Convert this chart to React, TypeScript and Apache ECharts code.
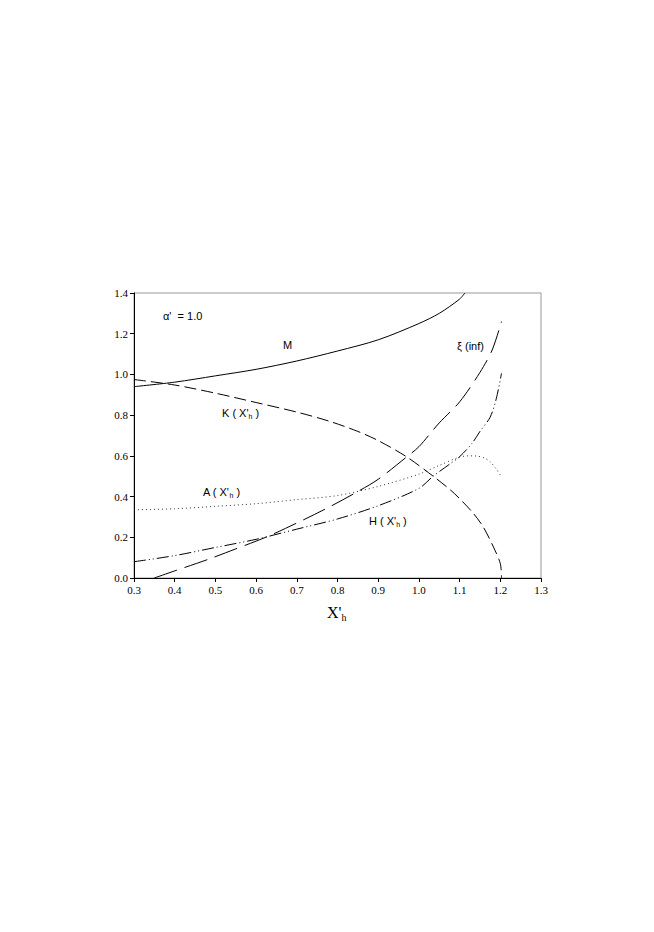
import React, { useEffect, useRef } from "react";
import * as echarts from "echarts";

const xTicks = [0.3, 0.4, 0.5, 0.6, 0.7, 0.8, 0.9, 1.0, 1.1, 1.2, 1.3];
const yTicks = [0.0, 0.2, 0.4, 0.6, 0.8, 1.0, 1.2, 1.4];

const mX = [0.3, 0.4, 0.5, 0.6, 0.7, 0.8, 0.9, 1.0, 1.05, 1.1, 1.113];
const mY = [0.94, 0.962, 0.993, 1.025, 1.066, 1.115, 1.17, 1.25, 1.3, 1.37, 1.4];

const kX = [0.3, 0.4, 0.5, 0.6, 0.7, 0.78, 0.85, 0.9, 0.97, 1.035, 1.076, 1.1, 1.134, 1.158, 1.183, 1.2, 1.203];
const kY = [0.975, 0.948, 0.908, 0.862, 0.815, 0.77, 0.72, 0.675, 0.595, 0.5, 0.435, 0.39, 0.317, 0.251, 0.153, 0.071, 0.0];

const xiX = [0.35, 0.4, 0.48, 0.55, 0.626, 0.7, 0.78, 0.85, 0.9, 0.97, 1.0, 1.05, 1.1, 1.15, 1.18, 1.203];
const xiY = [0.0, 0.035, 0.09, 0.143, 0.202, 0.27, 0.349, 0.425, 0.485, 0.595, 0.645, 0.762, 0.865, 1.01, 1.12, 1.26];

const aX = [0.3, 0.4, 0.5, 0.6, 0.7, 0.8, 0.9, 1.0, 1.05, 1.1, 1.125, 1.142, 1.16, 1.175, 1.19, 1.2];
const aY = [0.335, 0.34, 0.352, 0.365, 0.385, 0.405, 0.45, 0.51, 0.553, 0.594, 0.6, 0.599, 0.59, 0.571, 0.535, 0.505];

const hX = [0.3, 0.4, 0.5, 0.6, 0.7, 0.8, 0.9, 1.0, 1.035, 1.076, 1.1, 1.13, 1.15, 1.175, 1.19, 1.203];
const hY = [0.08, 0.11, 0.15, 0.19, 0.24, 0.29, 0.355, 0.44, 0.5, 0.56, 0.596, 0.66, 0.72, 0.79, 0.88, 1.006];

const zip = (xs: number[], ys: number[]) => xs.map((x, i) => [x, ys[i]]);

const serif = "Liberation Serif";
const sans = "Liberation Sans";

function lineSeries(name: string, xs: number[], ys: number[], type: any, color = "#000", width = 1) {
  return {
    name,
    type: "line",
    data: zip(xs, ys),
    showSymbol: false,
    smooth: 0.3,
    clip: true,
    lineStyle: { color, width, type },
  };
}

const rich = {
  n: { fontFamily: sans, fontSize: 11, color: "#000" },
  s: { fontFamily: sans, fontSize: 7, color: "#000", padding: [7, 0, 0, 0] },
};

export default function App() {
  const ref = useRef<HTMLDivElement>(null);
  useEffect(() => {
    if (!ref.current) return;
    const chart = echarts.init(ref.current, undefined, { renderer: "svg" });
    const label = (x: number, y: number, text: string) => ({
      type: "text",
      left: x,
      top: y,
      style: { text, rich, font: `11px ${sans}`, fill: "#000" },
    });
    const axisLabel = {
      fontFamily: serif,
      fontSize: 11,
      color: "#000",
      margin: 6,
      formatter: (v: number) => v.toFixed(1),
    };
    chart.setOption({
      animation: false,
      backgroundColor: "#fff",
      grid: {
        left: 134,
        top: 293,
        right: 113,
        bottom: 354,
        show: true,
        borderColor: "#999",
        borderWidth: 1,
        backgroundColor: "transparent",
      },
      xAxis: {
        type: "value",
        min: 0.3,
        max: 1.3,
        interval: 0.1,
        axisLine: { show: true, lineStyle: { color: "#000", width: 1 } },
        axisTick: { show: true, length: 4, lineStyle: { color: "#000" } },
        splitLine: { show: false },
        axisLabel,
      },
      yAxis: {
        type: "value",
        min: 0,
        max: 1.4,
        interval: 0.2,
        axisLine: { show: true, lineStyle: { color: "#000", width: 1 } },
        axisTick: { show: true, length: 4, lineStyle: { color: "#000" } },
        splitLine: { show: false },
        axisLabel,
      },
      series: [
        lineSeries("M", mX, mY, "solid"),
        lineSeries("K", kX, kY, [12, 5]),
        lineSeries("xi", xiX, xiY, [24, 8]),
        lineSeries("A", aX, aY, [1, 3], "#333"),
        lineSeries("H", hX, hY, [12, 3, 1, 3, 1, 3]),
      ],
      graphic: [
        label(163, 310, "α'  = 1.0"),
        label(283, 339, "M"),
        label(222, 407, "{n|K ( X'}{s|h}{n| )}"),
        label(457, 340, "ξ (inf)"),
        label(203, 486, "{n|A ( X'}{s|h}{n| )}"),
        label(369, 515, "{n|H ( X'}{s|h}{n| )}"),
        {
          type: "text",
          left: 327,
          top: 604,
          style: {
            text: "{n|X'}{s|h}",
            rich: {
              n: { fontFamily: serif, fontSize: 16, color: "#000" },
              s: { fontFamily: serif, fontSize: 10, color: "#000", padding: [10, 0, 0, 0] },
            },
          },
        },
      ],
    });
    return () => chart.dispose();
  }, []);
  return (
    <div
      ref={ref}
      style={{ position: "absolute", left: 0, top: 0, width: 654, height: 932 }}
    />
  );
}
